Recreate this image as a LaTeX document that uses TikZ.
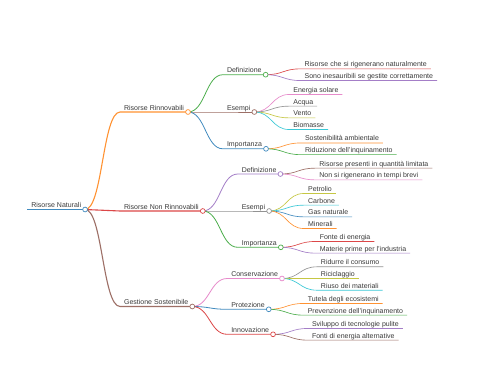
\documentclass[tikz,border=0pt]{standalone}
\usepackage{fontspec}
\setmainfont{Liberation Sans}
\usetikzlibrary{calc}
\definecolor{k0base}{HTML}{1F77B4}
\definecolor{k1base}{HTML}{FF7F0E}
\definecolor{k2base}{HTML}{2CA02C}
\definecolor{k3base}{HTML}{D62728}
\definecolor{k4base}{HTML}{9467BD}
\definecolor{k5base}{HTML}{8C564B}
\definecolor{k6base}{HTML}{E377C2}
\definecolor{k7base}{HTML}{7F7F7F}
\definecolor{k8base}{HTML}{BCBD22}
\definecolor{k9base}{HTML}{17BECF}
\colorlet{k0}{k0base!85!white}
\colorlet{k1}{k1base!85!white}
\colorlet{k2}{k2base!85!white}
\colorlet{k3}{k3base!85!white}
\colorlet{k4}{k4base!85!white}
\colorlet{k5}{k5base!85!white}
\colorlet{k6}{k6base!85!white}
\colorlet{k7}{k7base!85!white}
\colorlet{k8}{k8base!85!white}
\colorlet{k9}{k9base!85!white}
\definecolor{txt}{HTML}{3A3A3A}
\tikzset{
  lbl/.style={anchor=south west, inner xsep=4pt, inner ysep=2pt, text depth=0pt, outer sep=0pt,
              font=\fontsize{7}{8}\selectfont, text=txt},
  dot/.style={circle, fill=white, inner sep=0pt, minimum size=4.8pt, line width=0.7pt},
  dzero/.style={line width=1.5pt},
  done/.style={line width=1.1pt},
  dtwo/.style={line width=0.8pt},
  dthree/.style={line width=0.65pt},
}
% #1 parent, #2 name, #3 dy, #4 colour, #5 width style, #6 text
\newcommand{\mmchild}[6]{%
  \node[lbl] (#2) at ($(#1.south east)+(35,#3)$) {#6};
  \draw[#4,#5] (#1.south east) .. controls +(17.5,0) and +(-17.5,0) .. (#2.south west) -- (#2.south east);
}
\begin{document}
\begin{tikzpicture}[x=1pt,y=-1pt]
\fill[white] (0,0) rectangle (480,384);
\useasboundingbox (0,0) rectangle (480,384);
% root
\node[lbl] (r) at (27.3,209.5) {Risorse Naturali};
\draw[k0,dzero] (r.south west) -- (r.south east);
% level 1
\mmchild{r}{a}{-97.5}{k1}{done}{Risorse Rinnovabili}
\mmchild{r}{b}{1.5}{k3}{done}{Risorse Non Rinnovabili}
\mmchild{r}{c}{97}{k5}{done}{Gestione Sostenibile}
% level 2 - Rinnovabili
\mmchild{a}{a1}{-37.3}{k2}{dtwo}{Definizione}
\mmchild{a}{a2}{0}{k5}{dtwo}{Esempi}
\mmchild{a}{a3}{36.8}{k0}{dtwo}{Importanza}
% level 2 - Non Rinnovabili
\mmchild{b}{b1}{-37}{k4}{dtwo}{Definizione}
\mmchild{b}{b2}{0}{k7}{dtwo}{Esempi}
\mmchild{b}{b3}{36.3}{k2}{dtwo}{Importanza}
% level 2 - Gestione
\mmchild{c}{c1}{-28}{k6}{dtwo}{Conservazione}
\mmchild{c}{c2}{2.8}{k0}{dtwo}{Protezione}
\mmchild{c}{c3}{27.8}{k3}{dtwo}{Innovazione}
% leaves
\mmchild{a1}{a11}{-5.85}{k3}{dthree}{Risorse che si rigenerano naturalmente}
\mmchild{a1}{a12}{5.85}{k4}{dthree}{Sono inesauribili se gestite correttamente}
\mmchild{a2}{a21}{-17.55}{k6}{dthree}{Energia solare}
\mmchild{a2}{a22}{-5.85}{k7}{dthree}{Acqua}
\mmchild{a2}{a23}{5.85}{k8}{dthree}{Vento}
\mmchild{a2}{a24}{17.55}{k9}{dthree}{Biomasse}
\mmchild{a3}{a31}{-5.85}{k1}{dthree}{Sostenibilità ambientale}
\mmchild{a3}{a32}{5.85}{k2}{dthree}{Riduzione dell'inquinamento}
\mmchild{b1}{b11}{-5.85}{k5}{dthree}{Risorse presenti in quantità limitata}
\mmchild{b1}{b12}{5.85}{k6}{dthree}{Non si rigenerano in tempi brevi}
\mmchild{b2}{b21}{-17.55}{k8}{dthree}{Petrolio}
\mmchild{b2}{b22}{-5.85}{k9}{dthree}{Carbone}
\mmchild{b2}{b23}{5.85}{k0}{dthree}{Gas naturale}
\mmchild{b2}{b24}{17.55}{k1}{dthree}{Minerali}
\mmchild{b3}{b31}{-5.85}{k3}{dthree}{Fonte di energia}
\mmchild{b3}{b32}{5.85}{k4}{dthree}{Materie prime per l'industria}
\mmchild{c1}{c11}{-11.7}{k7}{dthree}{Ridurre il consumo}
\mmchild{c1}{c12}{0}{k8}{dthree}{Riciclaggio}
\mmchild{c1}{c13}{11.7}{k9}{dthree}{Riuso dei materiali}
\mmchild{c2}{c21}{-5.85}{k1}{dthree}{Tutela degli ecosistemi}
\mmchild{c2}{c22}{5.85}{k2}{dthree}{Prevenzione dell'inquinamento}
\mmchild{c3}{c31}{-5.85}{k4}{dthree}{Sviluppo di tecnologie pulite}
\mmchild{c3}{c32}{5.85}{k5}{dthree}{Fonti di energia alternative}
% circles
\node[dot,draw=k0] (rC) at (r.south east) {};
\node[dot,draw=k1] (aC) at (a.south east) {};
\node[dot,draw=k3] (bC) at (b.south east) {};
\node[dot,draw=k5] (cC) at (c.south east) {};
\node[dot,draw=k2] (a1C) at (a1.south east) {};
\node[dot,draw=k5] (a2C) at (a2.south east) {};
\node[dot,draw=k0] (a3C) at (a3.south east) {};
\node[dot,draw=k4] (b1C) at (b1.south east) {};
\node[dot,draw=k7] (b2C) at (b2.south east) {};
\node[dot,draw=k2] (b3C) at (b3.south east) {};
\node[dot,draw=k6] (c1C) at (c1.south east) {};
\node[dot,draw=k0] (c2C) at (c2.south east) {};
\node[dot,draw=k3] (c3C) at (c3.south east) {};
\end{tikzpicture}
\end{document}
